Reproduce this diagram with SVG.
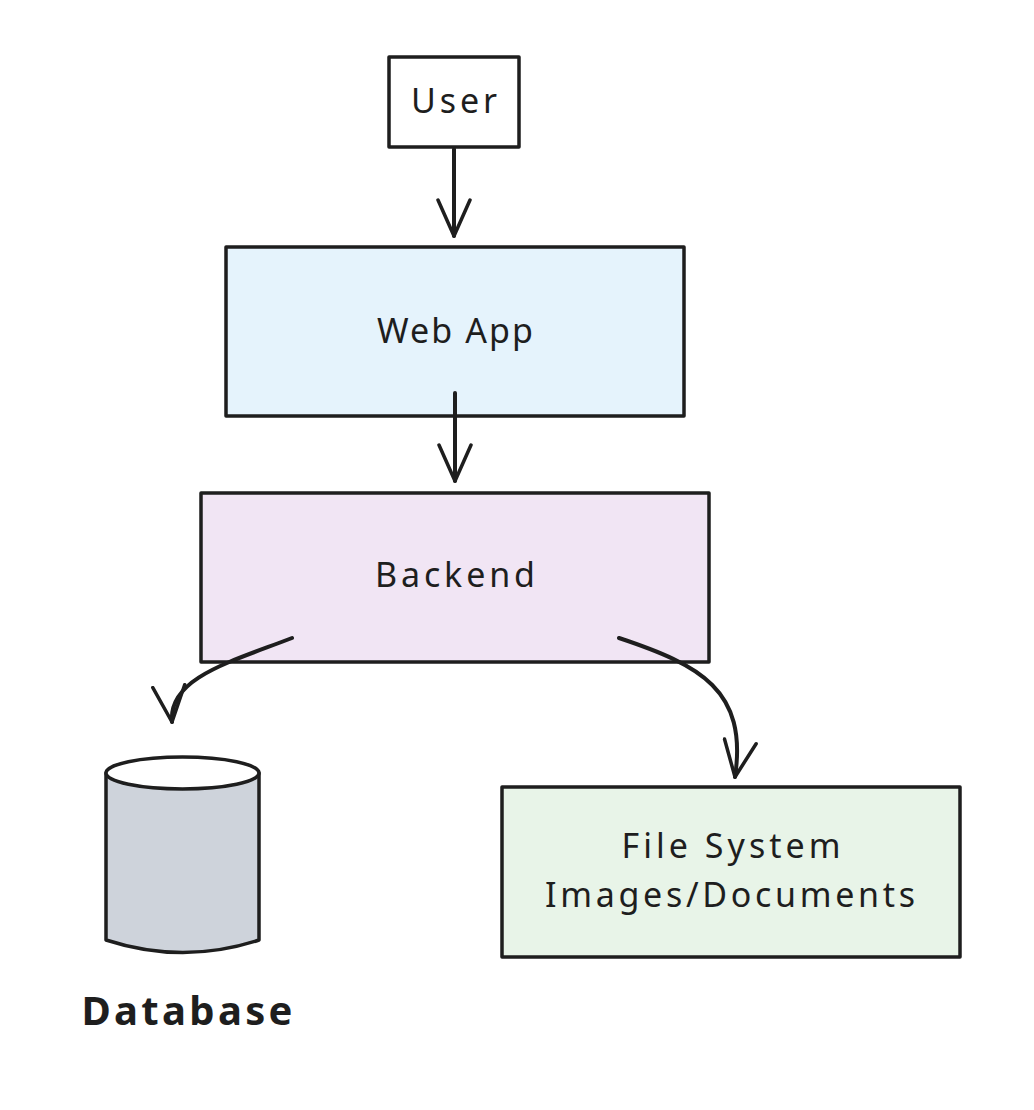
<svg xmlns="http://www.w3.org/2000/svg" width="1034" height="1110" viewBox="0 0 1034 1110">
<style>
.box{stroke:#1e1e1e;stroke-width:3.5;stroke-linejoin:round}
.lbl{font-family:"Noto Sans","DejaVu Sans",sans-serif;font-size:34px;fill:#1e1e1e;text-anchor:middle}
.edge{fill:none;stroke:#1e1e1e;stroke-width:4;stroke-linecap:round;stroke-linejoin:round}
</style>
<defs>
<marker id="arr" viewBox="0 0 40 36" refX="38" refY="18" markerWidth="40" markerHeight="36" markerUnits="userSpaceOnUse" orient="auto">
<path d="M2,2 L38,18 L2,34" fill="none" stroke="#1e1e1e" stroke-width="3.5" stroke-linecap="round" stroke-linejoin="round"/>
</marker>
</defs>
<rect width="1034" height="1110" fill="#ffffff"/>
<g id="user">
<rect class="box" x="389" y="57" width="130" height="90" fill="#ffffff"/>
<text class="lbl" x="454" y="113" textLength="86" lengthAdjust="spacing">User</text>
</g>
<g id="webapp">
<rect class="box" x="226" y="247" width="458" height="169" fill="#e5f3fc"/>
<text class="lbl" x="455" y="343" textLength="156" lengthAdjust="spacing">Web App</text>
</g>
<g id="backend">
<rect class="box" x="201" y="493" width="508" height="169" fill="#f1e5f4"/>
<text class="lbl" x="455" y="587" textLength="160" lengthAdjust="spacing">Backend</text>
</g>
<g id="database">
<path class="box" d="M106,773 L106,940 Q183,965 259,940 L259,773 Z" fill="#ced3db"/>
<ellipse class="box" cx="182.5" cy="773" rx="76.5" ry="16" fill="#ffffff"/>
<text class="lbl" x="187" y="1025" textLength="211" lengthAdjust="spacing" style="font-size:40px;font-weight:bold">Database</text>
</g>
<g id="filesystem">
<rect class="box" x="502" y="787" width="458" height="170" fill="#e8f4e8"/>
<text class="lbl" x="731" y="858" textLength="219" lengthAdjust="spacing">File System</text>
<text class="lbl" x="730" y="907" textLength="370" lengthAdjust="spacing">Images/Documents</text>
</g>
<g id="connectors">
<path class="edge" d="M454,149 L454,236" marker-end="url(#arr)"/>
<path class="edge" d="M455,393 L455,481" marker-end="url(#arr)"/>
<path class="edge" d="M292,638 C230,662 168,678 172,722" marker-end="url(#arr)"/>
<path class="edge" d="M619,638 C700,665 748,690 735,777" marker-end="url(#arr)"/>
</g>
</svg>
